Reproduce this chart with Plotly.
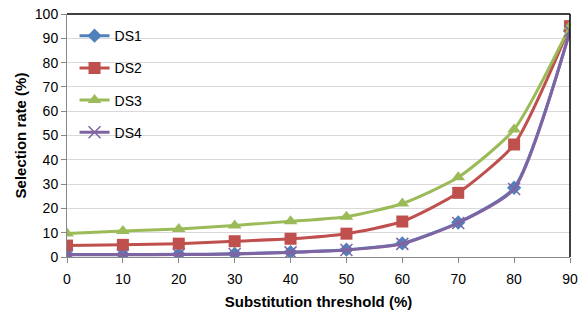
import plotly.graph_objects as go

thresholds = [0, 10, 20, 30, 40, 50, 60, 70, 80, 90]
ds1 = [1.0, 1.0, 1.1, 1.3, 2.0, 3.0, 5.6, 14.2, 28.5, 93.0]
ds2 = [4.7, 5.0, 5.5, 6.5, 7.5, 9.6, 14.6, 26.4, 46.3, 95.0]
ds3 = [9.7, 10.7, 11.5, 13.0, 14.7, 16.6, 22.0, 32.8, 52.5, 95.0]
ds4 = [0.9, 0.9, 1.0, 1.2, 1.9, 2.9, 5.4, 14.0, 28.0, 93.0]
names = ["DS1", "DS2", "DS3", "DS4"]
series = [ds1, ds2, ds3, ds4]
colors = ["#4F81BD", "#C0504D", "#9BBB59", "#8064A2"]
symbols = ["diamond", "square", "triangle-up", "x-thin"]
sizes = [11, 12, 12, 12]
y_ticks = [0, 10, 20, 30, 40, 50, 60, 70, 80, 90, 100]

fig = go.Figure()
for name, vals, col, sym, sz in zip(names, series, colors, symbols, sizes):
    marker = dict(symbol=sym, size=sz, color=col)
    if sym == "x-thin":
        marker["line"] = dict(color=col, width=1.5)
    fig.add_trace(go.Scatter(
        x=thresholds, y=vals, name=name, mode="lines+markers",
        line=dict(color=col, width=3, shape="spline", smoothing=0.6),
        marker=marker, legendgroup=name,
    ))

fig.update_layout(
    width=584, height=314,
    margin=dict(l=67, r=11, t=6, b=57),
    paper_bgcolor="white", plot_bgcolor="white",
    font=dict(family="Liberation Sans, Arial, sans-serif", size=14, color="#000"),
    showlegend=True,
    legend=dict(x=0.015, y=0.975, xanchor="left", yanchor="top",
                bgcolor="rgba(0,0,0,0)", tracegroupgap=11,
                font=dict(size=14), itemwidth=30),
    xaxis=dict(range=[0, 90], tickmode="array", tickvals=thresholds,
               showgrid=False, zeroline=False, showline=True, linecolor="#888",
               ticks="outside", ticklen=5, tickcolor="#888",
               ticklabeloverflow="allow", ticklabelstandoff=4,
               title=dict(text="<b>Substitution threshold (%)</b>", font=dict(size=15), standoff=10),
               mirror=False),
    yaxis=dict(range=[0, 100], tickmode="array", tickvals=y_ticks,
               showgrid=True, gridcolor="#D9D9D9",
               zeroline=False, showline=True, linecolor="#888",
               ticks="outside", ticklen=5, tickcolor="#888",
               ticklabeloverflow="allow",
               title=dict(text="<b>Selection rate (%)</b>", font=dict(size=15), standoff=4)),
    shapes=[
        dict(type="line", xref="paper", yref="paper", x0=0, x1=1, y0=1, y1=1,
             line=dict(color="black", width=1.5)),
        dict(type="line", xref="paper", yref="paper", x0=1, x1=1, y0=0, y1=1,
             line=dict(color="black", width=1.5)),
    ],
)

fig.write_html("out.html", config={"displayModeBar": False},
               post_script="document.body.style.margin='0';document.body.style.padding='0';")
